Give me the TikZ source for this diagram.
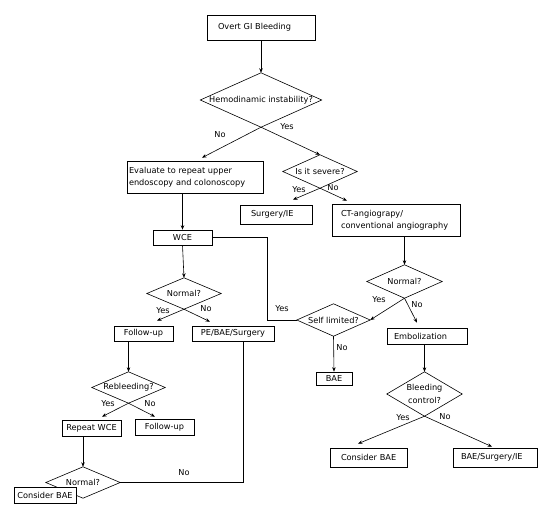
\documentclass[tikz,border=0pt]{standalone}
\usepackage{fontspec}
\setmainfont{DejaVu Sans}
\usetikzlibrary{arrows.meta}
\tikzset{
  txt/.style={font=\fontsize{8.2}{12.5}\selectfont},
  boxl/.style n args={3}{draw, line width=0.6pt, fill=white, txt, inner ysep=0pt,
     inner xsep=0pt, text width=#1, minimum height=#2, align=left,
     execute at begin node={\leftskip=#3\relax}},
  boxc/.style n args={2}{draw, line width=0.6pt, fill=white, txt, inner ysep=0pt,
     inner xsep=0pt, minimum width=#1, minimum height=#2, align=center},
  dnode/.style n args={2}{inner sep=0pt, txt, align=center, minimum width=#1, minimum height=#2},
  lbl/.style={txt, inner sep=0pt},
  ln/.style={line width=0.6pt},
  arr/.style={ln, -{Stealth[length=4.5pt,width=3.5pt]}}
}
\begin{document}
\begin{tikzpicture}[x=1pt,y=-1pt]
\useasboundingbox (0,0) rectangle (556,516);
% boxes
\node[boxl={108pt}{25pt}{11pt}] (ovt) at (261,27.5) {Overt GI Bleeding};
\node[boxl={136pt}{32pt}{2pt}] (ev) at (195,177) {Evaluate to repeat upper\\endoscopy and colonoscopy};
\node[boxl={72pt}{19pt}{11pt}] (sie) at (276,214.5) {Surgery/IE};
\node[boxl={128pt}{32pt}{9pt}] (ct) at (396,220) {CT-angiograpy/\\conventional angiography};
\node[boxc={59pt}{15pt}] (wce) at (182.5,237.5) {WCE};
\node[boxc={59pt}{15pt}] (fu1) at (143.5,333.5) {Follow-up};
\node[boxc={82pt}{15pt}] (pe) at (233,333.5) {PE/BAE/Surgery};
\node[boxl={80pt}{16pt}{7pt}] (emb) at (427,336) {Embolization};
\node[boxc={36pt}{13pt}] (bae) at (334,378.5) {BAE};
\node[boxl={77pt}{19pt}{11pt}] (cb1) at (368.5,457.5) {Consider BAE};
\node[boxl={84pt}{19pt}{8pt}] (bsi) at (495,457.5) {BAE/Surgery/IE};
\node[boxc={59pt}{16pt}] (rw) at (91.5,428) {Repeat WCE};
\node[boxc={59pt}{16pt}] (fu2) at (164.5,427) {Follow-up};
% diamonds
\node[dnode={121pt}{54pt}] (hi) at (261,100) {Hemodinamic instability?};
\node[dnode={74pt}{33pt}] (sev) at (320,171.5) {Is it severe?};
\node[dnode={74pt}{31pt}] (n1) at (184,293.5) {Normal?};
\node[dnode={75pt}{33pt}] (n2) at (404.5,281.5) {Normal?};
\node[dnode={73pt}{32pt}] (sl) at (333.5,320) {Self limited?};
\node[dnode={75pt}{44pt}] (bc) at (424.5,394) {Bleeding\\control?};
\node[dnode={73pt}{31pt}] (rb) at (128.5,387.5) {Rebleeding?};
\node[dnode={74pt}{31pt}] (n3) at (83,482.5) {Normal?};
\foreach \n in {hi,sev,n1,n2,sl,bc,rb,n3}
  \draw[ln] (\n.north) -- (\n.east) -- (\n.south) -- (\n.west) -- cycle;
\node[boxc={62pt}{16pt}] (cb2) at (45,495) {Consider BAE};
% connectors
\draw[arr] (ovt.south) -- (hi.north);
\draw[arr] (hi.south) -- ([xshift=7pt,yshift=3pt]ev.north);
\draw[arr] (hi.south) -- (sev.north);
\draw[arr] (sev.south) -- ([xshift=17pt,yshift=5pt]sie.north);
\draw[arr] (sev.south) -- ([xshift=-49pt,yshift=3pt]ct.north);
\draw[arr] (ev.south -| wce.north) -- (wce.north);
\coordinate (wcec) at (267,237.5);
\draw[ln] (wce.east) -- (wcec) |- (sl.west);
\draw[arr] (wce.south) -- (n1.north);
\draw[arr] (n1.south) -- ([xshift=13.5pt,yshift=5pt]fu1.north);
\draw[arr] (n1.south) -- ([xshift=-23pt,yshift=4pt]pe.north);
\draw[arr] (rb.north |- fu1.south) -- (rb.north);
\draw[ln] ([xshift=10pt]pe.south) |- (n3.east);
\draw[arr] (n2.north |- ct.south) -- (n2.north);
\draw[arr] (n2.south) -- (sl.east);
\draw[arr] (n2.south) -- ([xshift=-10pt,yshift=5pt]emb.north);
\draw[arr] (sl.south) -- (bae.north);
\draw[arr] (bc.north |- emb.south) -- (bc.north);
\draw[arr] (bc.south) -- ([xshift=-10.5pt,yshift=4pt]cb1.north);
\draw[arr] (bc.south) -- ([xshift=-3pt,yshift=1pt]bsi.north);
\draw[arr] (rb.south) -- ([xshift=10.5pt,yshift=3pt]rw.north);
\draw[arr] (rb.south) -- ([xshift=-9.5pt,yshift=2pt]fu2.north);
\draw[arr] (n3.north |- rw.south) -- (n3.north);
% labels
\node[lbl] (l1) at (220,135) {No};
\node[lbl] (l2) at (287,127) {Yes};
\node[lbl] (l3) at (299,190) {Yes};
\node[lbl] (l4) at (333,188) {No};
\node[lbl] (l5) at (282,309) {Yes};
\node[lbl] (l6) at (163,311) {Yes};
\node[lbl] (l7) at (206,309) {No};
\node[lbl] (l8) at (379,300) {Yes};
\node[lbl] (l9) at (417,305) {No};
\node[lbl] (l10) at (342,348) {No};
\node[lbl] (l11) at (403,418) {Yes};
\node[lbl] (l12) at (445,417) {No};
\node[lbl] (l13) at (108,404) {Yes};
\node[lbl] (l14) at (150,404) {No};
\node[lbl] (l15) at (184,473) {No};
\end{tikzpicture}
\end{document}
